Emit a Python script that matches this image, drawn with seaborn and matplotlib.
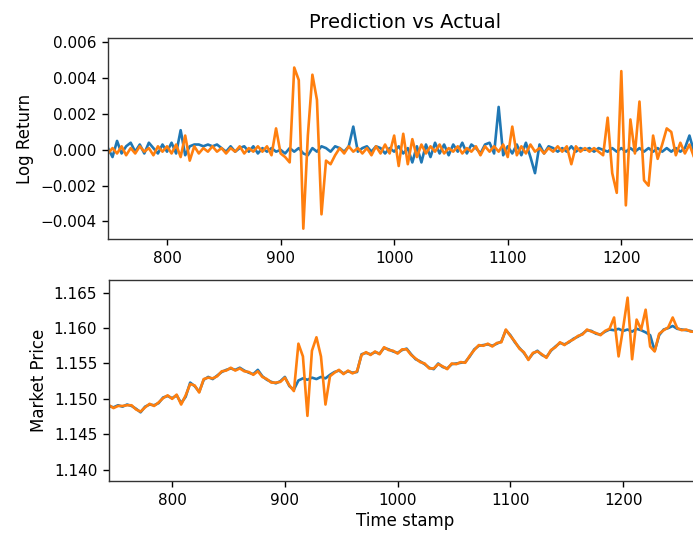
import numpy as np
import matplotlib
matplotlib.use("Agg")
import matplotlib.pyplot as plt
from matplotlib.ticker import ScalarFormatter
import seaborn as sns

# ---------------- data ----------------
ret_time = np.arange(748, 1273, 4)          # time stamps for log returns
price_time = np.arange(744, 1273, 4)        # time stamps for market price

# log returns, in units of 1e-4
actual_return_e4 = [
    1, -4, 5, -2, 2, 4, -1, 3, -2, 4,
    1, -2, 3, -1, 4, -2, 11, -3, 2, 3,
    3, 2, 3, 2, 3, 1, -1, 2, -1, 1,
    2, -1, 2, -2, 1, -1, 1, -1, 0, -2,
    1, -1, 1, -2, -3, 1, -1, 2, 1, -1,
    2, 1, -1, 2, 13, -1, 1, 2, -1, 2,
    1, -2, 1, -1, 2, -2, 1, -7, 2, -7,
    3, -4, 4, -2, 3, -3, 3, -1, 4, -2,
    3, 1, -2, 3, 4, -2, 24, -3, 2, -2,
    3, -3, 4, -4, -13, 3, -2, 2, 1, -1,
    1, -1, 2, -1, 1, 0, 1, -1, 1, 0,
    -1, 1, -1, 1, -1, 1, -1, 1, -1, 1,
    -1, 1, -1, 1, -1, 1, -1, 1, 8, -1,
    1, -1,
]
pred_return_e4 = [
    -2, 1, -2, 2, -3, 1, -2, 2, -1, 1,
    -3, 2, -1, 2, -2, 3, -4, 8, -6, 2,
    -2, 1, -1, 2, -1, 1, -2, 1, -1, 2,
    -2, 1, -1, 2, -1, 2, -3, 12, -2, -4,
    -7, 46, 39, -44, 8, 42, 28, -36, -6, -8,
    -3, 1, -2, 2, -1, 1, -2, 1, -3, 2,
    -2, 3, -2, 8, -9, 9, -8, 6, -4, 3,
    -2, 2, -1, 3, -2, 1, -1, 2, -2, 1,
    -1, 2, -3, 2, -1, 2, -1, 3, -4, 13,
    -3, 2, -2, 3, -1, 1, -2, 1, -1, 2,
    -1, 2, -8, 2, -1, 1, -1, 1, -1, -3,
    18, -13, -24, 44, -31, 17, -2, 27, -17, -20,
    8, -5, 3, 12, 10, -3, 4, -2, 3, -4,
    2, -1,
]

actual_price = [
    1.1490, 1.1488, 1.1491, 1.1489, 1.1492, 1.1490, 1.1486, 1.1481, 1.1489, 1.1492,
    1.1491, 1.1494, 1.1502, 1.1504, 1.1501, 1.1505, 1.1494, 1.1503, 1.1523, 1.1518,
    1.1510, 1.1527, 1.1531, 1.1528, 1.1533, 1.1538, 1.1541, 1.1543, 1.1541, 1.1544,
    1.1540, 1.1537, 1.1535, 1.1541, 1.1532, 1.1527, 1.1524, 1.1522, 1.1525, 1.1531,
    1.1518, 1.1513, 1.1526, 1.1529, 1.1527, 1.1530, 1.1528, 1.1531, 1.1529, 1.1534,
    1.1538, 1.1540, 1.1536, 1.1539, 1.1537, 1.1538, 1.1563, 1.1565, 1.1563, 1.1566,
    1.1564, 1.1572, 1.1570, 1.1567, 1.1565, 1.1569, 1.1571, 1.1563, 1.1556, 1.1553,
    1.1549, 1.1544, 1.1542, 1.1550, 1.1545, 1.1543, 1.1549, 1.1550, 1.1551, 1.1552,
    1.1560, 1.1570, 1.1575, 1.1576, 1.1577, 1.1575, 1.1578, 1.1581, 1.1597, 1.1590,
    1.1580, 1.1572, 1.1565, 1.1556, 1.1564, 1.1568, 1.1562, 1.1559, 1.1568, 1.1574,
    1.1579, 1.1577, 1.1580, 1.1585, 1.1588, 1.1592, 1.1597, 1.1596, 1.1592, 1.1591,
    1.1595, 1.1598, 1.1597, 1.1599, 1.1596, 1.1598, 1.1595, 1.1599, 1.1597, 1.1594,
    1.1590, 1.1568, 1.1590, 1.1598, 1.1600, 1.1603, 1.1599, 1.1598, 1.1597, 1.1596,
    1.1594, 1.1595, 1.1596,
]
pred_price = [
    1.1491, 1.1487, 1.1490, 1.1490, 1.1491, 1.1491, 1.1485, 1.1482, 1.1488, 1.1493,
    1.1490, 1.1495, 1.1501, 1.1505, 1.1500, 1.1506, 1.1492, 1.1505, 1.1521, 1.1519,
    1.1509, 1.1528, 1.1530, 1.1529, 1.1532, 1.1539, 1.1540, 1.1544, 1.1540, 1.1543,
    1.1539, 1.1538, 1.1534, 1.1539, 1.1531, 1.1528, 1.1523, 1.1523, 1.1524, 1.1530,
    1.1519, 1.1511, 1.1578, 1.1560, 1.1476, 1.1568, 1.1587, 1.1560, 1.1492, 1.1532,
    1.1537, 1.1541, 1.1535, 1.1540, 1.1536, 1.1539, 1.1562, 1.1566, 1.1562, 1.1567,
    1.1563, 1.1573, 1.1569, 1.1568, 1.1564, 1.1570, 1.1570, 1.1562, 1.1557, 1.1552,
    1.1550, 1.1543, 1.1543, 1.1549, 1.1546, 1.1542, 1.1550, 1.1549, 1.1552, 1.1551,
    1.1561, 1.1569, 1.1576, 1.1575, 1.1578, 1.1574, 1.1579, 1.1580, 1.1598, 1.1589,
    1.1581, 1.1571, 1.1566, 1.1555, 1.1565, 1.1567, 1.1563, 1.1558, 1.1569, 1.1573,
    1.1580, 1.1576, 1.1581, 1.1584, 1.1589, 1.1591, 1.1598, 1.1595, 1.1593, 1.1590,
    1.1596, 1.1599, 1.1615, 1.1560, 1.1600, 1.1643, 1.1556, 1.1612, 1.1598, 1.1626,
    1.1574, 1.1567, 1.1592, 1.1597, 1.1601, 1.1615, 1.1600, 1.1597, 1.1598, 1.1595,
    1.1595, 1.1594, 1.1597,
]

actual_return = np.array(actual_return_e4) * 1e-4
pred_return = np.array(pred_return_e4) * 1e-4
actual_price = np.array(actual_price)
pred_price = np.array(pred_price)

ret_yticks = [-0.004, -0.002, 0.000, 0.002, 0.004, 0.006]
price_yticks = [1.140, 1.145, 1.150, 1.155, 1.160, 1.165]
time_xticks = [800, 900, 1000, 1100, 1200]

BLUE = "#1f77b4"
ORANGE = "#ff7f0e"

# ---------------- figure ----------------
fig = plt.figure(figsize=(6.93, 5.34), dpi=100)
ax1 = fig.add_axes([0.1558, 0.5524, 0.8571, 0.3764])
ax2 = fig.add_axes([0.1573, 0.0993, 0.8557, 0.3764])

LW = 1.9
sns.lineplot(x=ret_time, y=actual_return, ax=ax1, color=BLUE, linewidth=LW)
sns.lineplot(x=ret_time, y=pred_return, ax=ax1, color=ORANGE, linewidth=LW)
ax1.set_xlim(748, 1271)
ax1.set_ylim(-0.00498, 0.00625)
ax1.set_yticks(ret_yticks)
ax1.set_xticks(time_xticks)
ax1.set_ylabel("Log Return", fontsize=12)
ax1.set_xlabel("")
ax1.set_title("Prediction vs Actual", fontsize=14, pad=7)

sns.lineplot(x=price_time, y=actual_price, ax=ax2, color=BLUE, linewidth=LW)
sns.lineplot(x=price_time, y=pred_price, ax=ax2, color=ORANGE, linewidth=LW)
ax2.set_xlim(744, 1270)
ax2.set_ylim(1.1384, 1.1668)
ax2.set_yticks(price_yticks)
ax2.set_xticks(time_xticks)
fmt = ScalarFormatter(useOffset=False)
ax2.yaxis.set_major_formatter(fmt)
ax2.set_ylabel("Market Price", fontsize=12)
ax2.set_xlabel("Time stamp", fontsize=12, labelpad=3)

for ax in (ax1, ax2):
    ax.tick_params(labelsize=11, length=4.5, width=1.0, pad=4)
    for s in ax.spines.values():
        s.set_color("#333333")
        s.set_linewidth(1.0)

fig.savefig("out.png", dpi=100)
